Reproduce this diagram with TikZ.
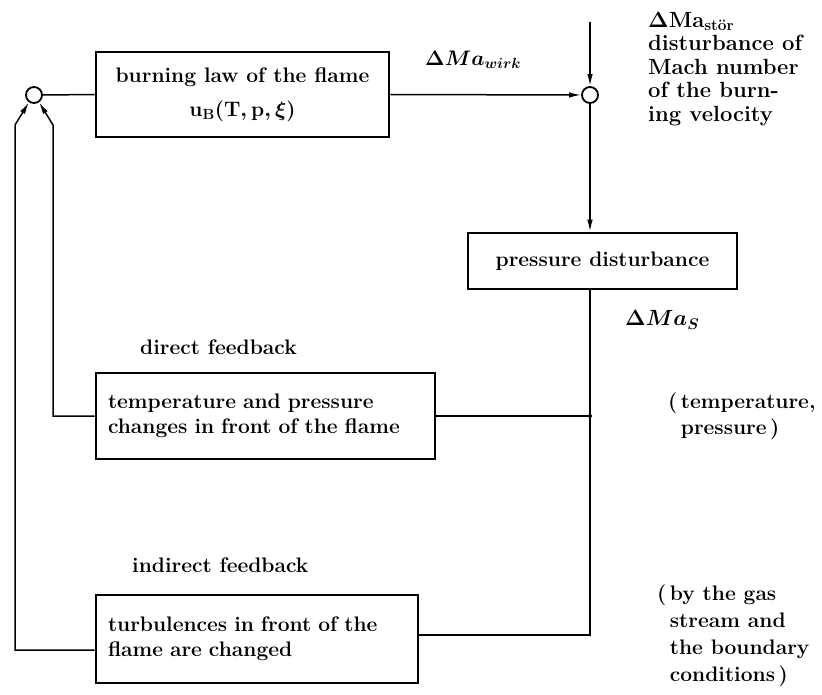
\RequirePackage{fix-cm}
\documentclass[tikz,border=0pt]{standalone}
\usepackage{fontspec}
\usetikzlibrary{arrows.meta}
\tikzset{
  blk/.style={draw, line width=2.6pt, inner sep=0pt},
  conn/.style={line width=1.5pt},
  arr/.style={-{Latex[length=12pt,width=5.5pt]}},
  sumc/.style={draw, circle, line width=1.8pt, minimum size=16pt, inner sep=0pt},
  lbl/.style={inner sep=0pt, align=left}
}
\begin{document}
\begin{tikzpicture}[x=1pt,y=-1pt,font=\fontsize{21}{25}\selectfont\bfseries]
\useasboundingbox (0,0) rectangle (822,695);
% summing points
\node[sumc] (c1) at (34,95) {};
\node[sumc] (c2) at (590,95) {};
% boxes
\node[blk, minimum width=293pt, minimum height=85pt, align=center] (law) at (242.5,94.5)
  {burning law of the flame\\[9pt]{\boldmath$\mathbf{u}_{\mathbf{B}}(\mathbf{T},\mathbf{p},\xi)$}};
\node[blk, minimum width=269pt, minimum height=56pt] (pd) at (602.5,261) {pressure disturbance};
\node[blk, text width=315pt, inner xsep=12pt, minimum height=86pt, align=left] (temp) at (265.5,416)
  {temperature and pressure\\changes in front of the flame};
\node[blk, text width=298pt, inner xsep=12pt, minimum height=88pt, align=left] (turb) at (257,639)
  {turbulences in front of the\\flame are changed};
% labels
\node[lbl, anchor=west] (wirk) at (425,60) {{\boldmath$\Delta Ma_{wirk}$}};
\node[lbl, anchor=north west, font=\fontsize{22}{23.5}\selectfont\bfseries] (stor) at (648,12)
  {{\boldmath$\Delta$}Ma\textsubscript{stör}\\disturbance of\\Mach number\\of the burn-\\ing velocity};
\node[lbl, anchor=west, font=\fontsize{22}{26}\selectfont\bfseries] (mas) at (625,320) {{\boldmath$\Delta Ma_S$}};
\node[lbl, anchor=west] (dfb) at (140,347) {direct feedback};
\node[lbl, anchor=west] (ifb) at (132,565) {indirect feedback};
\node[lbl, anchor=north west, font=\fontsize{21}{26}\selectfont\bfseries] (tp) at (668,393)
  {(\,temperature,\\\phantom{(\,}pressure\,)};
\node[lbl, anchor=north west, font=\fontsize{21}{27}\selectfont\bfseries] (bg) at (657,585)
  {(\,by the gas\\\phantom{(\,}stream and\\\phantom{(\,}the boundary\\\phantom{(\,}conditions\,)};
% coordinates
\coordinate (top) at (590,22);
\coordinate (junc) at (590,416);
\coordinate (rb) at (590,635);
\coordinate (ob) at (15,650);
\coordinate (ot) at (15,125);
\coordinate (it) at (53,125);
% connectors
\draw[conn] (c1.east) -- (law.west);
\draw[conn,arr] (law.east) -- (c2.west);
\draw[conn,arr] (top) -- (c2.north);
\draw[conn,arr] (c2.south) -- (c2.south |- pd.north);
\draw[conn] (c2.south |- pd.south) -- (rb) -- (rb -| turb.east);
\draw[conn] (junc) -- (temp.east);
\fill (junc) circle (2pt);
\draw[conn,arr] (ob -| turb.west) -- (ob) -- (ot) -- (c1.235);
\draw[conn,arr] (temp.west) -- (temp.west -| it) -- (it) -- (c1.305);
\end{tikzpicture}
\end{document}
